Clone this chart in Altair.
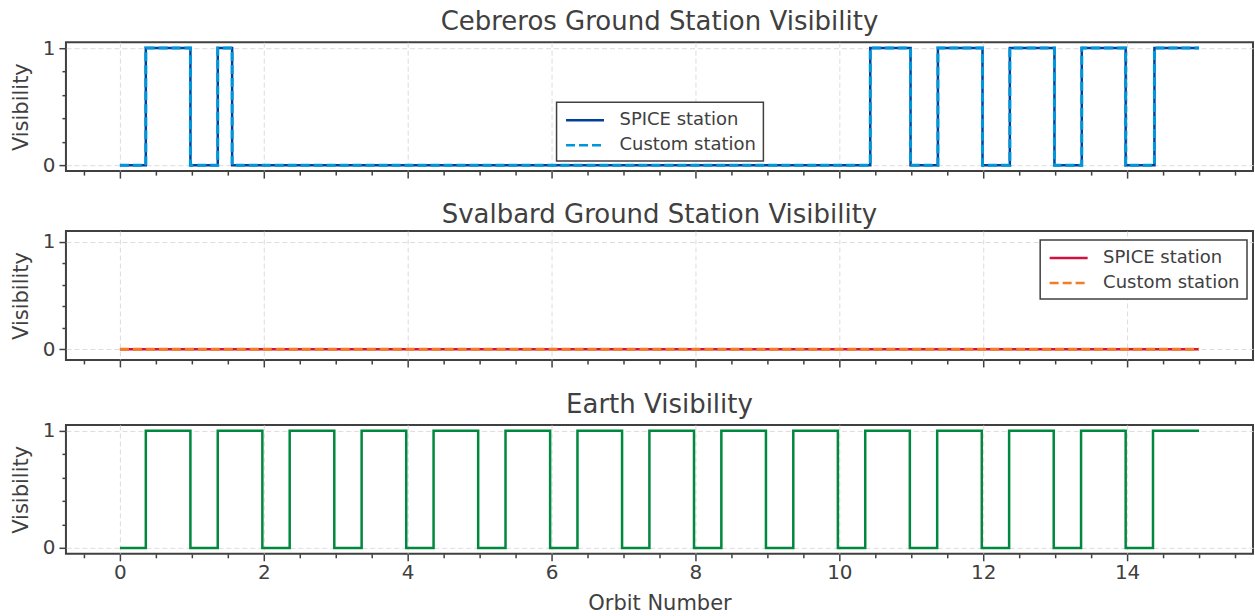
import altair as alt
import pandas as pd

# Cebreros ground station visibility (step transitions, orbit number vs 0/1)
cebreros_orbit = [0.0, 0.36, 0.98, 1.36, 1.56, 10.43, 10.99, 11.37, 11.99,
                  12.37, 12.99, 13.37, 13.98, 14.38, 15.0]
cebreros_spice = [0, 1, 0, 1, 0, 1, 0, 1, 0, 1, 0, 1, 0, 1, 1]
cebreros_custom = [0, 1, 0, 1, 0, 1, 0, 1, 0, 1, 0, 1, 0, 1, 1]

# Svalbard ground station visibility
svalbard_orbit = [0.0, 15.0]
svalbard_spice = [0, 0]
svalbard_custom = [0, 0]

# Earth visibility
earth_orbit = [0.0, 0.36, 0.98, 1.36, 1.98, 2.36, 2.98, 3.36, 3.98, 4.36, 4.98,
               5.36, 5.98, 6.36, 6.98, 7.36, 7.98, 8.36, 8.98, 9.36, 9.98,
               10.36, 10.98, 11.36, 11.98, 12.36, 12.98, 13.36, 13.98, 14.36, 15.0]
earth_vis = [0, 1, 0, 1, 0, 1, 0, 1, 0, 1, 0, 1, 0, 1, 0, 1, 0, 1, 0, 1, 0,
             1, 0, 1, 0, 1, 0, 1, 0, 1, 1]

series_names = ["SPICE station", "Custom station"]

FONT = "DejaVu Sans"
INK = "#404040"
W, H = 1188, 129

x_ticks = [v / 2 for v in range(-1, 32)]
y_ticks = [0, 0.2, 0.4, 0.6, 0.8, 1]
x_major = "datum.value % 2 === 0"
y_major = "datum.value === 0 || datum.value === 1"


def x_axis(show_labels):
    return alt.Axis(
        values=x_ticks,
        labels=show_labels,
        labelExpr=f"{x_major} ? '' + datum.value : ''",
        labelPadding=2,
        title="Orbit Number" if show_labels else None,
        titlePadding=10,
        tickSize={"condition": {"test": x_major, "value": 7}, "value": 4},
        gridOpacity={"condition": {"test": x_major, "value": 1}, "value": 0},
    )


y_axis = alt.Axis(
    values=y_ticks,
    labelExpr="datum.value === 0 ? '0' : datum.value === 1 ? '1' : ''",
    title="Visibility",
    tickSize={"condition": {"test": y_major, "value": 7}, "value": 4},
    gridOpacity={"condition": {"test": y_major, "value": 1}, "value": 0},
)


def station_panel(title, orbit, spice, custom, colors, ydom, legend_xy, show_labels=False):
    df = pd.DataFrame({
        "orbit": orbit + orbit,
        "vis": spice + custom,
        "series": [series_names[0]] * len(orbit) + [series_names[1]] * len(orbit),
    })
    legend = alt.Legend(title=None, orient="none", legendX=legend_xy[0], legendY=legend_xy[1])
    enc = dict(
        x=alt.X("orbit:Q", scale=alt.Scale(domain=[-0.75, 15.75], nice=False, zero=False),
                axis=x_axis(show_labels)),
        y=alt.Y("vis:Q", scale=alt.Scale(domain=ydom, nice=False, zero=False), axis=y_axis),
        color=alt.Color("series:N", scale=alt.Scale(domain=series_names, range=colors), legend=legend),
        strokeDash=alt.StrokeDash("series:N", scale=alt.Scale(domain=series_names, range=[[1, 0], [9, 4]]),
                                  legend=legend),
    )
    base = alt.Chart(df)
    spice_line = base.transform_filter(alt.datum.series == series_names[0]).mark_line(
        interpolate="step-after", strokeWidth=2.5).encode(**enc)
    custom_line = base.transform_filter(alt.datum.series == series_names[1]).mark_line(
        interpolate="step-after", strokeWidth=3).encode(**enc)
    return alt.layer(spice_line, custom_line).properties(
        width=W, height=H, title=title)


p1 = station_panel("Cebreros Ground Station Visibility", cebreros_orbit, cebreros_spice,
                   cebreros_custom, ["#00409a", "#0096db"], [-0.05, 1.05], [491, 60])
p2 = station_panel("Svalbard Ground Station Visibility", svalbard_orbit, svalbard_spice,
                   svalbard_custom, ["#d21140", "#f27d26"], [-0.1, 1.1], [975, 9])

earth_df = pd.DataFrame({"orbit": earth_orbit, "vis": earth_vis})
p3 = alt.Chart(earth_df).mark_line(interpolate="step-after", strokeWidth=2.5, color="#00883e").encode(
    x=alt.X("orbit:Q", scale=alt.Scale(domain=[-0.75, 15.75], nice=False, zero=False), axis=x_axis(True)),
    y=alt.Y("vis:Q", scale=alt.Scale(domain=[-0.05, 1.05], nice=False, zero=False), axis=y_axis),
).properties(width=W, height=H, title="Earth Visibility")

chart = alt.vconcat(p1, p2, p3, spacing=21).resolve_scale(
    color="independent", strokeDash="independent"
).properties(
    padding={"left": 9, "top": 7, "right": 1, "bottom": 0}
).configure_view(
    stroke=INK, strokeWidth=2
).configure_axis(
    domain=False,
    grid=True,
    gridColor="#dcdcdc",
    gridDash=[5, 3],
    gridWidth=1,
    tickColor=INK,
    tickWidth=1.5,
    labelFont=FONT,
    labelFontSize=20,
    labelColor=INK,
    labelPadding=4,
    titleFont=FONT,
    titleFontSize=21,
    titleFontWeight="normal",
    titleColor=INK,
    titlePadding=11,
).configure_title(
    font=FONT, fontSize=26, fontWeight="normal", color=INK, anchor="middle", offset=3
).configure_legend(
    labelFont=FONT, labelFontSize=18, labelColor=INK,
    strokeColor=INK, strokeWidth=1.5, fillColor="white", padding=7, cornerRadius=0,
    # a wide horizontal stroke drawn from a small nominal symbol keeps the rows compact
    symbolType="M-2,0H2", symbolSize=361, symbolStrokeWidth=2.5, symbolOffset=10.5,
    rowPadding=5, labelOffset=23.5,
)

chart.save("out.html", embed_options={"renderer": "svg", "actions": False})
